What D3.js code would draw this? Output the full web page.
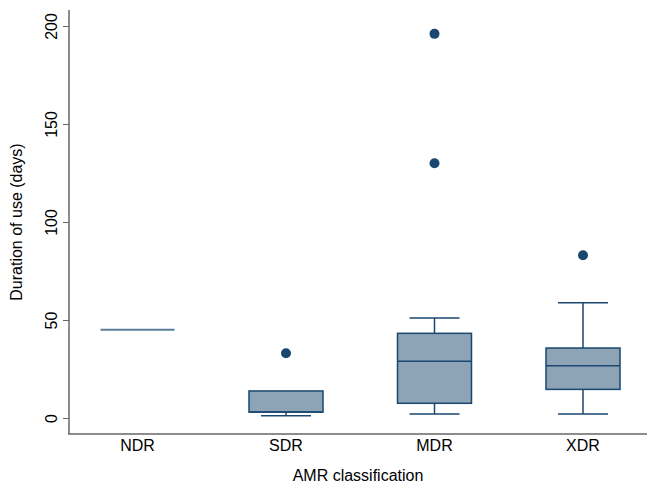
<!DOCTYPE html>
<html>
<head>
<meta charset="utf-8">
<script src="https://cdn.jsdelivr.net/npm/d3@7"></script>
<style>
  body { margin: 0; background: #fff; }
  text { font-family: "Liberation Sans", Arial, sans-serif; fill: #000; }
</style>
</head>
<body>
<div id="chart"></div>
<script>
// box summaries
var categories = ['NDR', 'SDR', 'MDR', 'XDR'];
var q1 = [45, 3, 7.5, 14.6];
var median = [45, 3, 29, 26.7];
var q3 = [45, 13.8, 43.2, 35.7];
var whiskerLow = [45, 1.2, 2, 2];
var whiskerHigh = [45, 13.8, 51, 58.8];
var outliers = [[], [33], [130, 196], [83]];
var yTicks = [0, 50, 100, 150, 200];

var width = 647;
var height = 485;
var navy = '#1a476f';
var boxFill = '#8da3b6';

var svg = d3.select('#chart')
    .append('svg')
    .attr('width', width)
    .attr('height', height);

var y = d3.scaleLinear()
    .domain([0, 200])
    .range([418, 26]);

var x = d3.scalePoint()
    .domain(categories)
    .range([137.5, 583]);

var boxWidth = 74;
var capWidth = 50;

var data = categories.map(function (c, i) {
    return {
        cat: c, q1: q1[i], med: median[i], q3: q3[i],
        lo: whiskerLow[i], hi: whiskerHigh[i], out: outliers[i]
    };
});

// y axis
var yAxis = svg.append('g')
    .attr('transform', 'translate(69,0)')
    .call(d3.axisLeft(y).tickValues(yTicks).tickSize(6).tickFormat(d3.format('d')));
yAxis.select('.domain').remove();
yAxis.selectAll('.tick line').attr('stroke', '#666').attr('stroke-width', 1);
yAxis.selectAll('.tick text')
    .attr('transform', 'rotate(-90)')
    .attr('x', 0)
    .attr('y', -12)
    .attr('dy', 0)
    .attr('text-anchor', 'middle')
    .style('font-size', '16px')
    .style('font-family', '"Liberation Sans", Arial, sans-serif')
    .attr('fill', '#000');

svg.append('line')
    .attr('x1', 69).attr('x2', 69)
    .attr('y1', 10).attr('y2', 434)
    .attr('stroke', '#666').attr('stroke-width', 1.5);

svg.append('line')
    .attr('x1', 68).attr('x2', width)
    .attr('y1', 434).attr('y2', 434)
    .attr('stroke', '#666').attr('stroke-width', 1.5);

// boxes
var g = svg.selectAll('.box')
    .data(data)
    .enter()
    .append('g')
    .attr('class', 'box');

g.each(function (d) {
    var sel = d3.select(this);
    var cx = x(d.cat);
    if (d.q1 === d.q3) {
        // degenerate box, only a line
        sel.append('line')
            .attr('x1', cx - boxWidth / 2).attr('x2', cx + boxWidth / 2)
            .attr('y1', y(d.med)).attr('y2', y(d.med))
            .attr('stroke', '#5a7d9a').attr('stroke-width', 2);
        return;
    }
    // whiskers
    sel.append('line')
        .attr('x1', cx).attr('x2', cx)
        .attr('y1', y(d.hi)).attr('y2', y(d.q3))
        .attr('stroke', navy).attr('stroke-width', 1.5);
    sel.append('line')
        .attr('x1', cx).attr('x2', cx)
        .attr('y1', y(d.q1)).attr('y2', y(d.lo))
        .attr('stroke', navy).attr('stroke-width', 1.5);
    [d.lo, d.hi].forEach(function (v) {
        if (v === d.q3) return;
        sel.append('line')
            .attr('x1', cx - capWidth / 2).attr('x2', cx + capWidth / 2)
            .attr('y1', y(v)).attr('y2', y(v))
            .attr('stroke', navy).attr('stroke-width', 1.5);
    });
    sel.append('rect')
        .attr('x', cx - boxWidth / 2)
        .attr('y', y(d.q3))
        .attr('width', boxWidth)
        .attr('height', y(d.q1) - y(d.q3))
        .attr('fill', boxFill)
        .attr('stroke', navy)
        .attr('stroke-width', 1.5);
    sel.append('line')
        .attr('x1', cx - boxWidth / 2).attr('x2', cx + boxWidth / 2)
        .attr('y1', y(d.med)).attr('y2', y(d.med))
        .attr('stroke', navy).attr('stroke-width', 1.5);
    sel.selectAll('circle')
        .data(d.out)
        .enter()
        .append('circle')
        .attr('cx', cx)
        .attr('cy', function (v) { return y(v); })
        .attr('r', 5)
        .attr('fill', navy);
});

// x labels
svg.selectAll('.xlab')
    .data(categories)
    .enter()
    .append('text')
    .attr('class', 'xlab')
    .attr('x', function (d) { return x(d); })
    .attr('y', 451)
    .attr('text-anchor', 'middle')
    .style('font-size', '16px')
    .text(function (d) { return d; });

svg.append('text')
    .attr('x', 358)
    .attr('y', 481)
    .attr('text-anchor', 'middle')
    .style('font-size', '16px')
    .text('AMR classification');

svg.append('text')
    .attr('transform', 'translate(22,222) rotate(-90)')
    .attr('text-anchor', 'middle')
    .style('font-size', '16px')
    .text('Duration of use (days)');
</script>
</body>
</html>
